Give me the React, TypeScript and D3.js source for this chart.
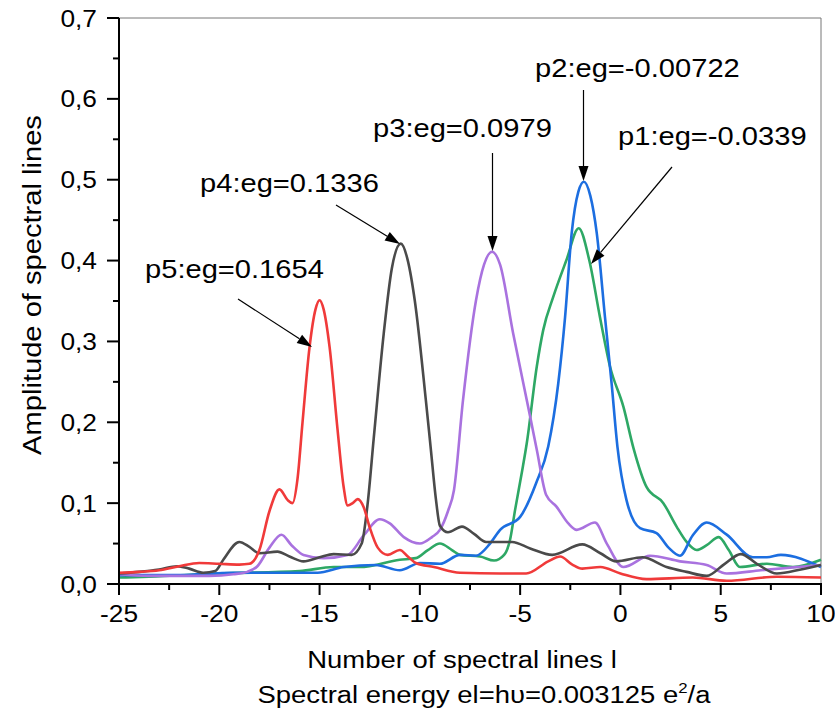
import React from "react";
import * as d3 from "d3";

// ---------- data ----------
const xTicks = [-25, -20, -15, -10, -5, 0, 5, 10];
const yTicks = [0, 0.1, 0.2, 0.3, 0.4, 0.5, 0.6, 0.7];
const yTickLabels = ["0,0", "0,1", "0,2", "0,3", "0,4", "0,5", "0,6", "0,7"];

const p1: [number, number][] = [
  [-25, 0.008], [-23.5, 0.009], [-20.1, 0.013], [-16, 0.016], [-14.3, 0.021], [-13, 0.021],
  [-11, 0.03], [-10.2, 0.032], [-9.6, 0.042], [-9, 0.05], [-8.4, 0.042], [-8, 0.036],
  [-7, 0.034], [-6.3, 0.029], [-5.8, 0.036], [-5.5, 0.055], [-5.25, 0.092], [-4.9, 0.14],
  [-4.67, 0.174], [-4.17, 0.269], [-3.85, 0.314], [-3.35, 0.355], [-2.7, 0.4], [-2.08, 0.44],
  [-1.55, 0.4], [-1.02, 0.33], [-0.52, 0.269], [0.15, 0.219], [0.65, 0.168], [1.3, 0.12],
  [2.14, 0.1], [2.8, 0.071], [3.3, 0.052], [3.8, 0.042], [4.3, 0.048], [4.9, 0.058],
  [5.4, 0.042], [5.96, 0.021], [7.3, 0.025], [8.6, 0.021], [10, 0.03],
];
const p2: [number, number][] = [
  [-25, 0.011], [-22, 0.011], [-19.3, 0.014], [-15.1, 0.014], [-13.8, 0.021], [-12.2, 0.0235],
  [-11, 0.017], [-10, 0.026], [-9, 0.025], [-8, 0.036], [-7.2, 0.035], [-6.5, 0.05],
  [-6, 0.067], [-5, 0.083], [-4.2, 0.125], [-3.6, 0.17], [-3.1, 0.248], [-2.76, 0.33],
  [-2.43, 0.434], [-2.1, 0.485], [-1.82, 0.4975], [-1.5, 0.48], [-1.18, 0.434], [-0.77, 0.33],
  [-0.44, 0.248], [-0.15, 0.17], [0.3, 0.104], [0.98, 0.069], [1.8, 0.063], [2.4, 0.045],
  [2.97, 0.035], [3.6, 0.06], [4.3, 0.076], [5.3, 0.061], [6.6, 0.033], [7.3, 0.033],
  [8, 0.036], [10, 0.021],
];
const p3: [number, number][] = [
  [-25, 0.012], [-23.5, 0.01], [-20.5, 0.01], [-19.3, 0.012], [-18.6, 0.015], [-18.1, 0.022],
  [-17.5, 0.045], [-16.9, 0.061], [-16.4, 0.048], [-15.8, 0.036], [-14.8, 0.032], [-13.6, 0.036],
  [-12.8, 0.06], [-12, 0.08], [-11.5, 0.075], [-10.8, 0.058], [-10, 0.05], [-9.4, 0.058],
  [-9, 0.067], [-8.6, 0.09], [-8.3, 0.116], [-7.85, 0.227], [-7.2, 0.351], [-6.8, 0.395],
  [-6.4, 0.411], [-6, 0.395], [-5.35, 0.31], [-4.5, 0.207], [-4.17, 0.166], [-3.7, 0.11],
  [-3.2, 0.096], [-2.6, 0.075], [-2.18, 0.067], [-1.27, 0.076], [-0.68, 0.05], [0.15, 0.021],
  [1.47, 0.035], [2.97, 0.028], [4.3, 0.0235], [5.3, 0.013], [7, 0.017], [10, 0.0235],
];
const p4: [number, number][] = [
  [-25, 0.013], [-24, 0.015], [-23, 0.018], [-22.1, 0.022], [-21.5, 0.019], [-20.8, 0.014],
  [-20.2, 0.016], [-19.8, 0.03], [-19, 0.052], [-18.5, 0.046], [-18, 0.038], [-17.1, 0.04],
  [-16.5, 0.034], [-15.8, 0.028], [-15, 0.033], [-14.3, 0.037], [-13.4, 0.036], [-12.9, 0.05],
  [-12.6, 0.1], [-12.3, 0.18], [-11.8, 0.31], [-11.4, 0.39], [-10.95, 0.421], [-10.6, 0.4],
  [-10.25, 0.35], [-9.7, 0.227], [-9.45, 0.166], [-9.2, 0.105], [-9, 0.072], [-8.6, 0.064],
  [-7.9, 0.071], [-7.3, 0.062], [-6.7, 0.052], [-5.4, 0.052], [-4.5, 0.044], [-3.4, 0.036],
  [-1.9, 0.049], [-1, 0.038], [-0.2, 0.028], [1.1, 0.033], [2.3, 0.021], [3.3, 0.015],
  [4.3, 0.01], [5.2, 0.025], [6, 0.037], [6.8, 0.025], [7.8, 0.013], [9, 0.018], [10, 0.0235],
];
const p5: [number, number][] = [
  [-25, 0.014], [-24, 0.015], [-23, 0.017], [-22, 0.022], [-21, 0.026], [-20, 0.025],
  [-19, 0.024], [-18.5, 0.025], [-18, 0.042], [-17.5, 0.09], [-17, 0.117], [-16.6, 0.104],
  [-16.35, 0.1], [-16.1, 0.13], [-15.85, 0.2], [-15.5, 0.293], [-15.2, 0.34], [-15, 0.351],
  [-14.8, 0.34], [-14.5, 0.293], [-14.1, 0.19], [-13.8, 0.12], [-13.6, 0.097], [-13.35, 0.1],
  [-13.1, 0.105], [-12.8, 0.095], [-12.5, 0.07], [-12.1, 0.045], [-11.6, 0.036], [-11, 0.042],
  [-10.6, 0.034], [-10.2, 0.026], [-9.3, 0.021], [-8, 0.014], [-6, 0.013], [-4.7, 0.013],
  [-3.6, 0.028], [-3, 0.034], [-2.4, 0.024], [-1.9, 0.019], [-1, 0.021], [0, 0.013],
  [1.3, 0.006], [3.6, 0.008], [5.3, 0.004], [7.8, 0.009], [10, 0.008],
];

const seriesNames = ["p1", "p2", "p3", "p4", "p5"];
const seriesData = [p1, p2, p3, p4, p5];
const seriesColors = ["#2ea865", "#1c6ee0", "#a972df", "#4a4a4a", "#f03a3a"];

const annoLabels = ["p1:eg=-0.0339", "p2:eg=-0.00722", "p3:eg=0.0979", "p4:eg=0.1336", "p5:eg=0.1654"];

// ---------- layout ----------
const W = 835, H = 715;
const L = 119, R = 821, T = 18, B = 584;
const FONT = "'Liberation Sans', Arial, sans-serif";
const SX = 1.12;

function Txt(props: { x: number; y: number; size: number; anchor?: string; children: any }) {
  const { x, y, size, anchor = "start", children } = props;
  return (
    <g transform={`translate(${x},${y}) scale(${SX},1)`}>
      <text fontFamily={FONT} fontSize={size} textAnchor={anchor} fill="#000">
        {children}
      </text>
    </g>
  );
}

function Arrow(props: { x1: number; y1: number; x2: number; y2: number }) {
  const { x1, y1, x2, y2 } = props;
  const ang = Math.atan2(y2 - y1, x2 - x1);
  const len = 15, half = 5;
  const bx = x2 - len * Math.cos(ang), by = y2 - len * Math.sin(ang);
  const px = -Math.sin(ang) * half, py = Math.cos(ang) * half;
  return (
    <g>
      <line x1={x1} y1={y1} x2={bx} y2={by} stroke="#000" strokeWidth={1.2} />
      <polygon points={`${x2},${y2} ${bx + px},${by + py} ${bx - px},${by - py}`} fill="#000" />
    </g>
  );
}

export default function App() {
  const x = d3.scaleLinear().domain([-25, 10]).range([L, R]);
  const y = d3.scaleLinear().domain([0, 0.7]).range([B, T]);
  const line = d3
    .line<[number, number]>()
    .x((d) => x(d[0]))
    .y((d) => y(d[1]))
    .curve(d3.curveMonotoneX);

  const xMinor = d3.range(-25, 10.01, 2.5).filter((v) => !xTicks.includes(v));
  const yMinor = d3.range(0.05, 0.7, 0.1);

  return (
    <svg width={W} height={H} style={{ display: "block", position: "absolute", left: 0, top: 0 }}>
      <rect width={W} height={H} fill="#fff" />
      {/* frame top/right */}
      <line x1={L} y1={T} x2={R} y2={T} stroke="#777" strokeWidth={1} />
      <line x1={R} y1={T} x2={R} y2={B} stroke="#777" strokeWidth={1} />

      {/* series */}
      {seriesData.map((d, i) => (
        <path key={seriesNames[i]} d={line(d) || ""} fill="none" stroke={seriesColors[i]} strokeWidth={2.6} strokeLinejoin="round" />
      ))}

      {/* axes */}
      <line x1={L} y1={T} x2={L} y2={B + 1} stroke="#000" strokeWidth={2} />
      <line x1={L - 1} y1={B} x2={R + 1} y2={B} stroke="#000" strokeWidth={2} />
      {xTicks.map((v) => (
        <line key={"xt" + v} x1={x(v)} x2={x(v)} y1={B} y2={B + 11} stroke="#000" strokeWidth={2} />
      ))}
      {xMinor.map((v) => (
        <line key={"xm" + v} x1={x(v)} x2={x(v)} y1={B} y2={B + 6} stroke="#000" strokeWidth={2} />
      ))}
      {yTicks.map((v) => (
        <line key={"yt" + v} x1={L - 12} x2={L} y1={y(v)} y2={y(v)} stroke="#000" strokeWidth={2} />
      ))}
      {yMinor.map((v) => (
        <line key={"ym" + v} x1={L - 6} x2={L} y1={y(v)} y2={y(v)} stroke="#000" strokeWidth={2} />
      ))}

      {xTicks.map((v) => (
        <Txt key={"xl" + v} x={x(v)} y={622} size={23.5} anchor="middle">{String(v)}</Txt>
      ))}
      {yTicks.map((v, i) => (
        <Txt key={"yl" + v} x={97} y={y(v) + 8.5} size={23.5} anchor="end">{yTickLabels[i]}</Txt>
      ))}

      {/* axis titles */}
      <Txt x={462} y={668} size={24.5} anchor="middle">Number of spectral lines l</Txt>
      <Txt x={484} y={703} size={24.5} anchor="middle">
        Spectral energy el=hυ=0.003125 e<tspan fontSize={15} dy={-10}>2</tspan><tspan dy={10}>/a</tspan>
      </Txt>
      <g transform={`translate(41,285) rotate(-90) scale(${SX},1)`}>
        <text fontFamily={FONT} fontSize={26} textAnchor="middle">Amplitude of spectral lines</text>
      </g>

      {/* annotations */}
      <Txt x={618} y={145} size={26}>{annoLabels[0]}</Txt>
      <Txt x={535} y={77} size={26}>{annoLabels[1]}</Txt>
      <Txt x={373} y={137} size={26}>{annoLabels[2]}</Txt>
      <Txt x={200} y={192} size={26}>{annoLabels[3]}</Txt>
      <Txt x={145} y={278} size={26}>{annoLabels[4]}</Txt>

      <Arrow x1={672} y1={167} x2={591} y2={264} />
      <Arrow x1={583.5} y1={90} x2={583.5} y2={181} />
      <Arrow x1={492.5} y1={153} x2={492.5} y2={251} />
      <Arrow x1={336} y1={205} x2={400} y2={244} />
      <Arrow x1={238} y1={299} x2={312} y2={347} />
    </svg>
  );
}
